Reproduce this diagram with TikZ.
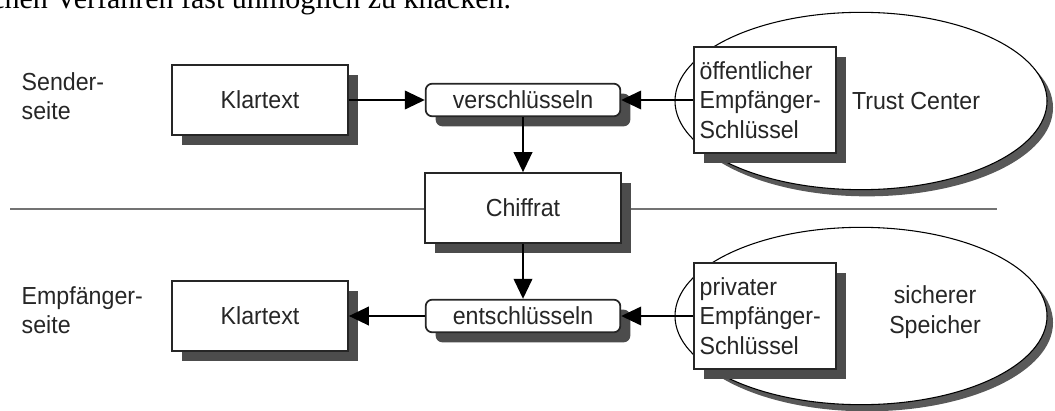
\documentclass[tikz,border=0pt]{standalone}
\usepackage{fontspec}
\setmainfont{Liberation Sans}[FakeStretch=0.94]
\newfontfamily\seriffont{Liberation Serif}
\usetikzlibrary{arrows.meta,shadows,shapes.geometric}

\begin{document}
\begin{tikzpicture}[x=0.75pt,y=-0.75pt,>={Triangle[length=15pt,width=14pt]},
  font=\fontsize{18.5}{22}\selectfont, text=black!85,
  box/.style={draw=black!85,line width=1.3pt,fill=white,minimum width=132pt,minimum height=52.5pt,
    drop shadow={shadow xshift=7.5pt,shadow yshift=-7.5pt,fill=black!70,opacity=1}},
  cryptbox/.style={box,rounded corners=5pt,minimum width=146pt,minimum height=24.5pt},
  keybox/.style={box,align=left,minimum width=0pt,text width=98pt,inner xsep=4.5pt,minimum height=79.5pt},
  store/.style={ellipse,draw=black,line width=0.8pt,fill=white,minimum width=279pt,minimum height=133pt,
    drop shadow={shadow xshift=4.5pt,shadow yshift=-5pt,fill=black!65,opacity=1}},
  lbl/.style={align=left,anchor=west},
  arr/.style={->,line width=1.3pt,draw=black},
  sep/.style={line width=1.5pt,draw=black!55}]
  \useasboundingbox (0,0) rectangle (1055,410);

  % cut off line of the surrounding text
  \node[font=\seriffont\fontsize{22.5}{27}\selectfont,text=black,anchor=base west,inner sep=0pt] (intro) at (-9,9)
    {chen Verfahren fast unmöglich zu knacken.};

  % dividing line between sender and receiver
  \coordinate (sepL) at (10,209);
  \coordinate (sepR) at (997,209);
  \draw[sep] (sepL) -- (sepR);

  \node[lbl] (sendlbl) at (17,96) {Sender-\\seite};
  \node[lbl] (recvlbl) at (17,310) {Empfänger-\\seite};

  % sender row
  \node[box] (klarS) at (260,100) {Klartext};
  \node[cryptbox] (versch) at (523,100) {verschlüsseln};
  \node[store] (trust) at (861,101) {};
  \node[keybox] (pubkey) at (765,100) {öffentlicher\\Empfänger-\\Schlüssel};
  \node (trustlbl) at (916,101) {Trust Center};

  \node[box,minimum width=147pt] (chiffrat) at (523,208) {Chiffrat};

  % receiver row
  \node[box] (klarE) at (260,316) {Klartext};
  \node[cryptbox] (entsch) at (523,316) {entschlüsseln};
  \node[store] (safe) at (861,316) {};
  \node[keybox] (privkey) at (765,316) {privater\\Empfänger-\\Schlüssel};
  \node[align=center] (safelbl) at (935,312) {sicherer\\Speicher};

  \draw[arr] (klarS) -- (versch);
  \draw[arr] (pubkey) -- (versch);
  \draw[arr] (versch) -- (chiffrat);
  \draw[arr] (chiffrat) -- (entsch);
  \draw[arr] (entsch) -- (klarE);
  \draw[arr] (privkey) -- (entsch);
\end{tikzpicture}
\end{document}
